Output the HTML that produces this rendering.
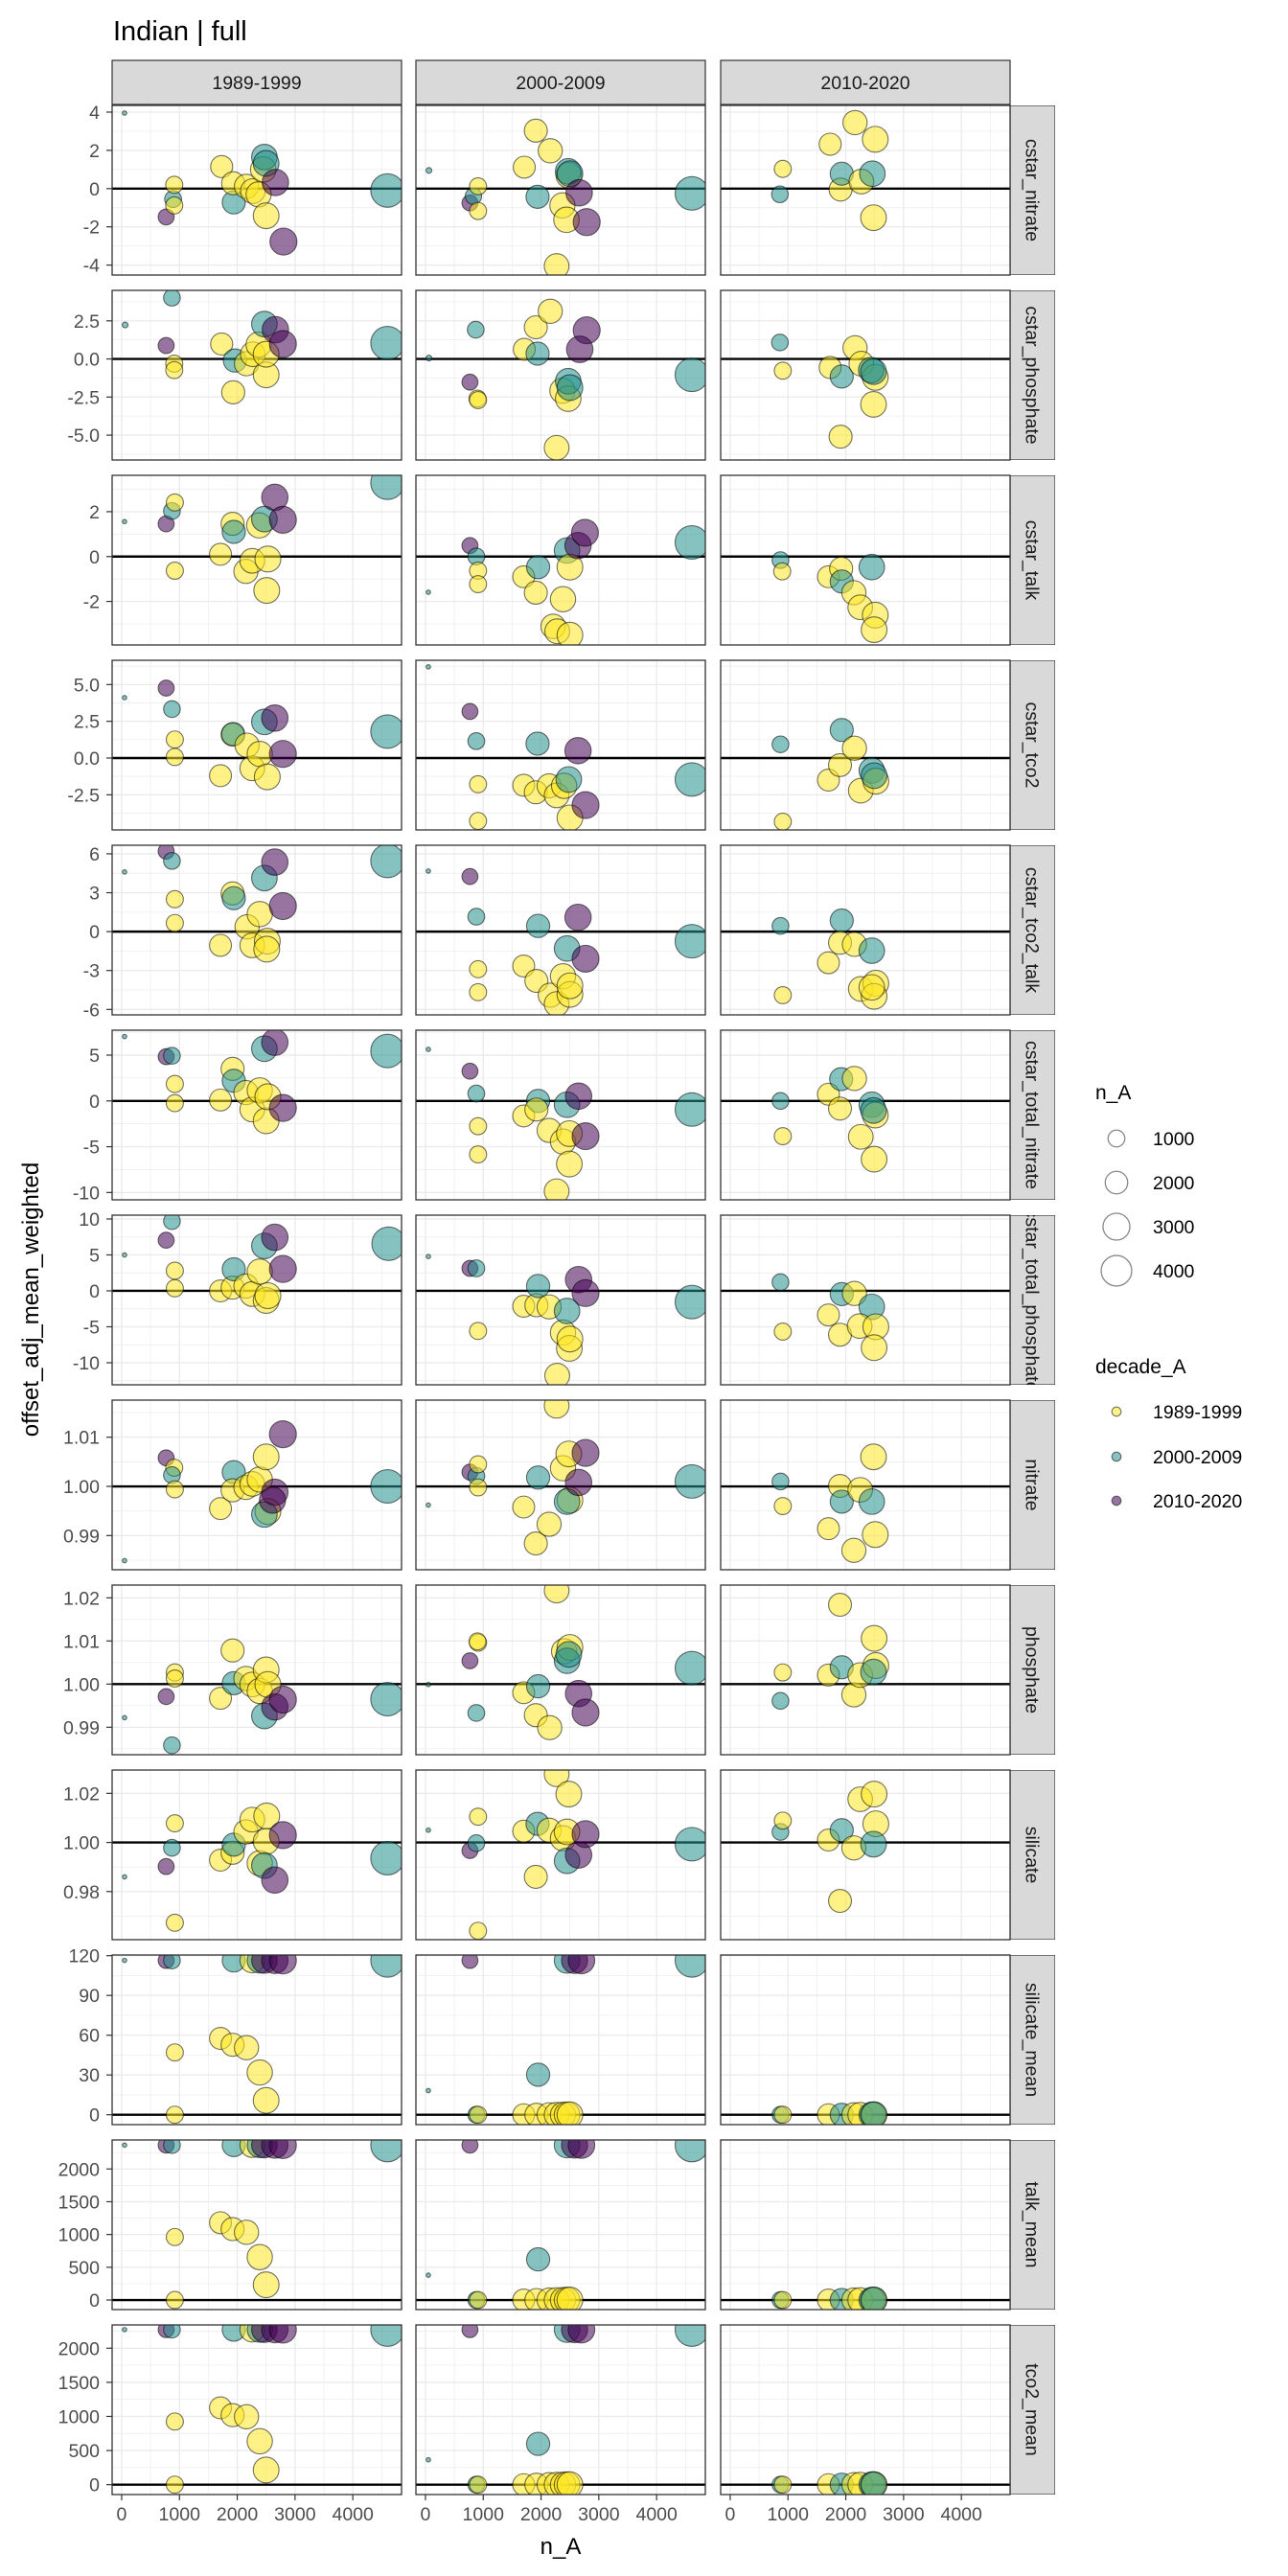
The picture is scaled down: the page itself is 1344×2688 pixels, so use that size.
<!DOCTYPE html>
<html><head><meta charset="utf-8">
<style>
html,body{margin:0;padding:0;background:#fff;}
svg{display:block;font-family:"Liberation Sans",Arial,sans-serif;}
</style></head>
<body>
<svg id="chart" width="1344" height="2688" viewBox="0 0 1344 2688" xmlns="http://www.w3.org/2000/svg">
<defs id="defs"></defs>
<rect width="1344" height="2688" fill="#fff"/>
<text x="118" y="42" font-size="29" fill="#000">Indian | full</text>
<text x="585" y="2665" font-size="24" text-anchor="middle" fill="#000">n_A</text>
<text transform="translate(40,1356) rotate(-90)" font-size="24" text-anchor="middle" fill="#000">offset_adj_mean_weighted</text>
<g id="legend">
<text x="1143" y="1147" font-size="21">n_A</text>
<text x="1143" y="1433" font-size="21">decade_A</text>
</g>
</svg>
<script>
const colNames = ["1989-1999","2000-2009","2010-2020"];
const rowNames = ["cstar_nitrate","cstar_phosphate","cstar_talk","cstar_tco2","cstar_tco2_talk","cstar_total_nitrate","cstar_total_phosphate","nitrate","phosphate","silicate","silicate_mean","talk_mean","tco2_mean"];
const rowDomains = [[-4.52,4.35],[-6.63,4.5],[-3.94,3.62],[-4.89,6.65],[-6.42,6.66],[-10.8,7.72],[-13.07,10.53],[0.98305,1.01754],[0.98362,1.02296],[0.9604,1.0295],[-7.45,120.5],[-146,2443],[-145,2341]];
const rowTicks = [[-4,-2,0,2,4],[-5,-2.5,0,2.5],[-2,0,2],[-2.5,0,2.5,5],[-6,-3,0,3,6],[-10,-5,0,5],[-10,-5,0,5,10],[0.99,1.00,1.01],[0.99,1.00,1.01,1.02],[0.98,1.00,1.02],[0,30,60,90,120],[0,500,1000,1500,2000],[0,500,1000,1500,2000]];
const rowTickLabels = [["-4","-2","0","2","4"],["-5.0","-2.5","0.0","2.5"],["-2","0","2"],["-2.5","0.0","2.5","5.0"],["-6","-3","0","3","6"],["-10","-5","0","5"],["-10","-5","0","5","10"],["0.99","1.00","1.01"],["0.99","1.00","1.01","1.02"],["0.98","1.00","1.02"],["0","30","60","90","120"],["0","500","1000","1500","2000"],["0","500","1000","1500","2000"]];
const refLines = [0,0,0,0,0,0,0,1,1,1,0,0,0];
const xTicks = [0,1000,2000,3000,4000];
const xTickLabels = ["0","1000","2000","3000","4000"];
const decades = ["1989-1999","2000-2009","2010-2020"];
const sizeLegend = [1000,2000,3000,4000];
// points: [column, n_A, decadeIndex, value]
const r0 = [[0,50,1,3.95],[0,770,2,-1.48],[0,890,1,-0.55],[0,910,0,0.2],[0,910,0,-0.88],[0,1730,0,1.15],[0,1940,1,-0.72],[0,1930,0,0.28],[0,2160,0,0.12],[0,2270,0,-0.13],[0,2370,0,-0.3],[0,2450,0,1.0],[0,2470,1,1.65],[0,2500,1,1.32],[0,2500,0,-1.42],[0,2660,2,0.32],[0,2800,2,-2.77],[0,4600,1,-0.1],
[1,60,1,0.95],[1,770,2,-0.75],[1,830,1,-0.4],[1,910,0,0.12],[1,910,0,-1.17],[1,1710,0,1.12],[1,1940,1,-0.43],[1,1910,0,3.03],[1,2160,0,1.98],[1,2270,0,-4.05],[1,2370,0,-0.88],[1,2480,0,0.7],[1,2470,1,0.9],[1,2500,1,0.78],[1,2440,0,-1.63],[1,2660,2,-0.22],[1,2790,2,-1.75],[1,4610,1,-0.25],
[2,910,0,1.03],[2,860,1,-0.3],[2,1730,0,2.32],[2,1910,0,-0.05],[2,1930,1,0.78],[2,2160,0,3.45],[2,2270,0,0.37],[2,2510,0,2.58],[2,2460,1,0.78],[2,2480,0,-1.52]];
const r1 = [[0,60,1,2.23],[0,870,1,4.02],[0,770,2,0.88],[0,910,0,-0.31],[0,910,0,-0.73],[0,1730,0,0.98],[0,1930,0,-2.19],[0,1960,1,-0.1],[0,2160,0,-0.31],[0,2270,0,0.31],[0,2370,0,0.94],[0,2500,0,-1.04],[0,2500,0,0.31],[0,2470,1,2.29],[0,2660,2,1.92],[0,2790,2,0.98],[0,4600,1,1.04],
[1,60,1,0.06],[1,770,2,-1.52],[1,900,0,-2.6],[1,910,0,-2.7],[1,870,1,1.92],[1,1710,0,0.63],[1,1940,1,0.35],[1,1910,0,2.08],[1,2160,0,3.13],[1,2270,0,-5.83],[1,2370,0,-2.08],[1,2470,0,-2.6],[1,2470,1,-1.46],[1,2500,1,-1.88],[1,2790,2,1.88],[1,2670,2,0.63],[1,4610,1,-1.04],
[2,860,1,1.08],[2,910,0,-0.77],[2,1730,0,-0.56],[2,1930,1,-1.15],[2,2160,0,0.73],[2,1910,0,-5.1],[2,2270,0,-0.31],[2,2510,0,-1.21],[2,2440,1,-0.73],[2,2480,1,-0.83],[2,2480,0,-2.98]];
const r2 = [[0,50,1,1.56],[0,770,2,1.46],[0,870,1,2.03],[0,920,0,2.41],[0,920,0,-0.63],[0,1710,0,0.1],[0,1920,0,1.46],[0,1940,1,1.1],[0,2150,0,-0.66],[0,2260,0,-0.19],[0,2380,0,1.39],[0,2470,1,1.67],[0,2530,0,-0.11],[0,2510,0,-1.51],[0,2650,2,2.64],[0,2790,2,1.64],[0,4600,1,3.29],
[1,50,1,-1.59],[1,770,2,0.49],[1,880,1,0],[1,910,0,-0.63],[1,910,0,-1.23],[1,1700,0,-0.9],[1,1950,1,-0.47],[1,1910,0,-1.61],[1,2210,0,-3.11],[1,2280,0,-3.33],[1,2500,0,-3.5],[1,2380,0,-1.9],[1,2450,1,0.27],[1,2500,0,-0.47],[1,2640,2,0.49],[1,2760,2,1.06],[1,4610,1,0.63],
[2,870,1,-0.16],[2,900,0,-0.66],[2,1700,0,-0.9],[2,1920,0,-0.54],[2,1930,1,-1.11],[2,2140,0,-1.61],[2,2250,0,-2.26],[2,2510,0,-2.61],[2,2490,0,-3.26],[2,2450,1,-0.47]];
const r3 = [[0,50,1,4.11],[0,770,2,4.76],[0,870,1,3.33],[0,920,0,1.26],[0,920,0,0.07],[0,1710,0,-1.2],[0,1920,0,1.6],[0,1930,1,1.63],[0,2170,0,0.87],[0,2260,0,-0.7],[0,2390,0,0.28],[0,2520,0,-1.28],[0,2470,1,2.46],[0,2650,2,2.72],[0,2790,2,0.28],[0,4600,1,1.8],
[1,50,1,6.2],[1,770,2,3.17],[1,880,1,1.15],[1,910,0,-1.78],[1,910,0,-4.28],[1,1700,0,-1.85],[1,1940,1,0.98],[1,1910,0,-2.33],[1,2140,0,-1.89],[1,2270,0,-2.54],[1,2400,0,-1.89],[1,2480,1,-1.46],[1,2500,0,-4.07],[1,2640,2,0.5],[1,2770,2,-3.2],[1,4610,1,-1.46],
[2,870,1,0.93],[2,910,0,-4.33],[2,1700,0,-1.5],[2,1930,1,1.91],[2,1900,0,-0.48],[2,2150,0,0.67],[2,2260,0,-2.22],[2,2450,1,-0.85],[2,2520,0,-1.57],[2,2490,1,-1.2]];
const r4 = [[0,50,1,4.6],[0,770,2,6.2],[0,870,1,5.45],[0,920,0,2.5],[0,920,0,0.66],[0,1710,0,-1.06],[0,1920,0,2.95],[0,1940,1,2.58],[0,2170,0,0.37],[0,2260,0,-1.06],[0,2390,0,1.35],[0,2520,0,-0.74],[0,2510,0,-1.35],[0,2470,1,4.13],[0,2650,2,5.36],[0,2790,2,1.97],[0,4600,1,5.45],
[1,50,1,4.67],[1,770,2,4.25],[1,880,1,1.15],[1,910,0,-2.9],[1,910,0,-4.67],[1,1700,0,-2.65],[1,1950,1,0.44],[1,1920,0,-3.8],[1,2160,0,-4.9],[1,2270,0,-5.58],[1,2380,0,-3.44],[1,2500,0,-4.84],[1,2500,0,-4.18],[1,2450,1,-1.3],[1,2640,2,1.1],[1,2770,2,-2.09],[1,4610,1,-0.74],
[2,870,1,0.44],[2,910,0,-4.9],[2,1700,0,-2.4],[2,1930,1,0.86],[2,1900,0,-0.86],[2,2150,0,-0.98],[2,2260,0,-4.42],[2,2450,1,-1.47],[2,2520,0,-3.98],[2,2490,0,-4.99],[2,2450,0,-4.3]];
const r5 = [[0,50,1,7.03],[0,770,2,4.83],[0,870,1,4.93],[0,920,0,1.85],[0,920,0,-0.24],[0,1710,0,0.1],[0,1920,0,3.5],[0,1940,1,2.2],[0,2150,0,0.91],[0,2260,0,-0.94],[0,2390,0,1.15],[0,2500,0,-2.17],[0,2530,0,0.45],[0,2470,1,5.7],[0,2650,2,6.4],[0,2790,2,-0.77],[0,4600,1,5.45],
[1,50,1,5.63],[1,770,2,3.25],[1,880,1,0.8],[1,910,0,-2.76],[1,910,0,-5.84],[1,1700,0,-1.64],[1,1950,1,0],[1,1920,0,-0.94],[1,2140,0,-3.22],[1,2380,0,-4.44],[1,2490,0,-6.89],[1,2270,0,-9.86],[1,2490,0,-3.57],[1,2450,1,-0.42],[1,2650,2,0.52],[1,2770,2,-3.85],[1,4610,1,-0.94],
[2,870,1,0],[2,910,0,-3.85],[2,1700,0,0.73],[2,1920,1,2.38],[2,1900,0,-0.84],[2,2150,0,2.45],[2,2260,0,-3.92],[2,2450,1,-0.42],[2,2510,0,-1.54],[2,2480,1,-1.05],[2,2490,0,-6.36]];
const r6 = [[0,50,1,5],[0,870,1,9.7],[0,770,2,7.05],[0,920,0,2.8],[0,920,0,0.36],[0,1710,0,0],[0,1920,0,0.45],[0,1940,1,3],[0,2150,0,0.67],[0,2260,0,-0.45],[0,2390,0,2.68],[0,2500,0,-1.34],[0,2530,0,-0.67],[0,2470,1,6.25],[0,2650,2,7.45],[0,2790,2,3.04],[0,4620,1,6.56],
[1,50,1,4.78],[1,770,2,3.13],[1,880,1,3.13],[1,910,0,-5.58],[1,1700,0,-2.14],[1,1920,0,-2.0],[1,1950,1,0.67],[1,2140,0,-2.23],[1,2380,0,-5.8],[1,2490,0,-8.0],[1,2500,0,-6.7],[1,2280,0,-11.8],[1,2450,1,-2.8],[1,2650,2,1.56],[1,2770,2,-0.31],[1,4610,1,-1.56],
[2,870,1,1.2],[2,910,0,-5.67],[2,1700,0,-3.35],[2,1930,1,-0.45],[2,2150,0,-0.36],[2,1900,0,-6.1],[2,2450,1,-2.23],[2,2240,0,-4.9],[2,2520,0,-5.0],[2,2490,0,-7.9]];
const r7 = [[0,50,1,0.9849],[0,770,2,1.0058],[0,910,0,1.0038],[0,870,1,1.0023],[0,920,0,0.9994],[0,1710,0,0.9955],[0,1940,1,1.0029],[0,1920,0,0.9992],[0,2150,0,0.9998],[0,2260,0,1.0005],[0,2390,0,1.0014],[0,2500,0,1.006],[0,2530,0,0.9949],[0,2470,1,0.9943],[0,2650,2,0.9988],[0,2610,2,0.9972],[0,2790,2,1.0106],[0,4600,1,1.0],
[1,50,1,0.9962],[1,770,2,1.0029],[1,880,1,1.0021],[1,910,0,1.0045],[1,910,0,0.9998],[1,1700,0,0.9958],[1,1950,1,1.0018],[1,1910,0,0.9884],[1,2140,0,0.9923],[1,2270,0,1.0164],[1,2380,0,1.0037],[1,2480,0,1.0066],[1,2500,0,0.9972],[1,2450,1,0.9969],[1,2650,2,1.0008],[1,2770,2,1.0068],[1,4610,1,1.001],
[2,870,1,1.001],[2,910,0,0.996],[2,1700,0,0.9914],[2,1900,0,1.0001],[2,1930,1,0.9969],[2,2140,0,0.987],[2,2250,0,0.9993],[2,2450,1,0.9969],[2,2510,0,0.9902],[2,2480,0,1.006]];
const r8 = [[0,50,1,0.9922],[0,870,1,0.9858],[0,770,2,0.9971],[0,920,0,1.0027],[0,920,0,1.0013],[0,1710,0,0.9967],[0,1920,0,1.0078],[0,1940,1,1.0002],[0,2150,0,1.0013],[0,2260,0,0.9999],[0,2390,0,0.9984],[0,2500,0,1.0033],[0,2530,0,0.9999],[0,2470,1,0.9926],[0,2650,2,0.9947],[0,2790,2,0.9964],[0,4600,1,0.9965],
[1,50,1,0.9999],[1,770,2,1.0054],[1,880,1,0.9933],[1,910,0,1.0096],[1,900,0,1.0099],[1,1700,0,0.998],[1,1950,1,0.9995],[1,1910,0,0.9928],[1,2150,0,0.9899],[1,2270,0,1.0217],[1,2400,0,1.0076],[1,2500,0,1.0085],[1,2450,1,1.0054],[1,2480,1,1.0069],[1,2650,2,0.9978],[1,2770,2,0.9934],[1,4610,1,1.0037],
[2,870,1,0.9961],[2,910,0,1.0027],[2,1700,0,1.0021],[2,1930,1,1.0039],[2,1900,0,1.0184],[2,2140,0,0.9975],[2,2250,0,1.0021],[2,2490,0,1.0106],[2,2520,0,1.0043],[2,2480,1,1.0028]];
const r9 = [[0,50,1,0.986],[0,770,2,0.9902],[0,870,1,0.9978],[0,920,0,1.0078],[0,920,0,0.9673],[0,1710,0,0.9928],[0,1920,0,0.9958],[0,1940,1,0.9991],[0,2150,0,1.0043],[0,2260,0,1.0093],[0,2510,0,1.0108],[0,2390,0,0.9915],[0,2500,0,1.0004],[0,2470,1,0.9906],[0,2650,2,0.9847],[0,2790,2,1.003],[0,4600,1,0.9936],
[1,50,1,1.005],[1,770,2,0.9967],[1,880,1,0.9997],[1,910,0,1.0105],[1,910,0,0.964],[1,1700,0,1.0046],[1,1940,1,1.0076],[1,1910,0,0.986],[1,2140,0,1.005],[1,2270,0,1.0278],[1,2480,0,1.0197],[1,2380,0,1.0017],[1,2450,0,1.0043],[1,2450,1,0.9925],[1,2650,2,0.9949],[1,2770,2,1.0034],[1,4610,1,0.9993],
[2,870,1,1.0043],[2,910,0,1.0089],[2,1700,0,1.001],[2,1930,1,1.005],[2,1900,0,0.9762],[2,2140,0,0.9978],[2,2250,0,1.0176],[2,2490,0,1.0197],[2,2520,0,1.0076],[2,2480,1,0.9993]];
const r10 = [[0,50,1,116.4],[0,770,2,116.4],[0,870,1,116.4],[0,920,0,47],[0,920,0,0],[0,1710,0,57.6],[0,1920,0,52.8],[0,1940,1,116.4],[0,2160,0,50.6],[0,2260,0,116.4],[0,2390,1,116.4],[0,2390,0,31.9],[0,2500,0,10.8],[0,2470,2,116.4],[0,2650,2,116.4],[0,2790,2,116.4],[0,4600,1,116.4],
[1,50,1,18.2],[1,770,2,116.4],[1,880,1,0],[1,910,0,0],[1,1700,0,0],[1,1920,0,0],[1,1950,1,30.2],[1,2140,0,0],[1,2270,0,0],[1,2380,0,0],[1,2450,0,0],[1,2500,0,0],[1,2450,1,116.4],[1,2580,2,116.4],[1,2700,2,116.4],[1,4610,1,116.4],
[2,870,1,0],[2,910,0,0],[2,1700,0,0],[2,1930,1,0],[2,2140,0,0],[2,2250,0,0],[2,2450,1,0],[2,2490,0,0],[2,2480,1,0]];
const r11 = [[0,50,1,2365],[0,770,2,2365],[0,870,1,2365],[0,920,0,961],[0,920,0,0],[0,1710,0,1180],[0,1920,0,1083],[0,1940,1,2365],[0,2160,0,1034],[0,2260,0,2365],[0,2390,1,2365],[0,2390,0,655],[0,2500,0,233],[0,2470,2,2365],[0,2650,2,2365],[0,2790,2,2365],[0,4600,1,2365],
[1,50,1,379],[1,770,2,2365],[1,880,1,0],[1,910,0,0],[1,1700,0,0],[1,1920,0,0],[1,1950,1,621],[1,2140,0,0],[1,2270,0,0],[1,2380,0,0],[1,2450,0,0],[1,2500,0,0],[1,2450,1,2365],[1,2580,2,2365],[1,2700,2,2365],[1,4610,1,2365],
[2,870,1,0],[2,910,0,0],[2,1700,0,0],[2,1930,1,0],[2,2140,0,0],[2,2250,0,0],[2,2450,1,0],[2,2490,0,0],[2,2480,1,0]];
const r12 = [[0,50,1,2272],[0,770,2,2272],[0,870,1,2272],[0,920,0,925],[0,920,0,0],[0,1710,0,1126],[0,1920,0,1019],[0,1940,1,2272],[0,2160,0,995],[0,2260,0,2272],[0,2390,1,2272],[0,2390,0,636],[0,2500,0,215],[0,2470,2,2272],[0,2650,2,2272],[0,2790,2,2272],[0,4600,1,2272],
[1,50,1,364],[1,770,2,2272],[1,880,1,0],[1,910,0,0],[1,1700,0,0],[1,1920,0,0],[1,1950,1,598],[1,2140,0,0],[1,2270,0,0],[1,2380,0,0],[1,2450,0,0],[1,2500,0,0],[1,2450,1,2272],[1,2580,2,2272],[1,2700,2,2272],[1,4610,1,2272],
[2,870,1,0],[2,910,0,0],[2,1700,0,0],[2,1930,1,0],[2,2140,0,0],[2,2250,0,0],[2,2450,1,0],[2,2490,0,0],[2,2480,1,0]];
const rowPoints = [r0,r1,r2,r3,r4,r5,r6,r7,r8,r9,r10,r11,r12];

const NS = "http://www.w3.org/2000/svg";
const svg = document.getElementById("chart");
const defs = document.getElementById("defs");
const colLeft = [117, 434, 752];
const PW = 302, PH = 177, ROW0 = 110, PITCH = 193;
const STRIP_TOP = 63, STRIP_H = 46, RSTRIP_W = 47;
const fills = ["#FDE725","#21908C","#440154"];
const XMIN = -165, XMAX = 4843;
function xScale(c, n){ return colLeft[c] + (n - XMIN) / (XMAX - XMIN) * PW; }
function yScale(r, v){ const d = rowDomains[r]; const top = ROW0 + r*PITCH; return top + (d[1]-v)/(d[1]-d[0])*PH; }
function rScale(n){ return 2.3 + 15.2*Math.sqrt(Math.max(0,(n-50)/4570)); }
function mk(tag, attrs, parent){ const e = document.createElementNS(NS, tag); for (const k in attrs) e.setAttribute(k, attrs[k]); (parent||svg).appendChild(e); return e; }

for (let c=0;c<3;c++){
  const g = mk("g",{});
  
  
  mk("rect",{x:colLeft[c],y:STRIP_TOP,width:PW,height:STRIP_H,fill:"#d9d9d9",stroke:"#333","stroke-width":1.2},g);
  const t = mk("text",{x:colLeft[c]+PW/2,y:STRIP_TOP+STRIP_H/2+7,"font-size":19.5,"text-anchor":"middle",fill:"#1a1a1a"},g);
  t.textContent = colNames[c];
}

for (let r=0;r<13;r++){
  const top = ROW0 + r*PITCH;
  const d = rowDomains[r];
  const ticks = rowTicks[r];
  const step = ticks[1]-ticks[0];
  const minors = [];
  for (let i=-1;i<ticks.length;i++){ const m = (i<0? ticks[0]-step/2 : ticks[i]+step/2); if (m>d[0] && m<d[1]) minors.push(m); }
  for (let i=0;i<ticks.length;i++){
    const y = yScale(r, ticks[i]);
    const tl = mk("text",{x:104,y:y+7,"font-size":19.5,"text-anchor":"end",fill:"#4d4d4d"});
    
    
    tl.textContent = rowTickLabels[r][i];
    mk("line",{x1:colLeft[0]-6,x2:colLeft[0],y1:y,y2:y,stroke:"#333","stroke-width":1.2});
  }
  const cid = "clipS"+r;
  const cp = mk("clipPath",{id:cid},defs);
  mk("rect",{x:colLeft[2]+PW,y:top,width:RSTRIP_W,height:PH},cp);
  const sg = mk("g",{"clip-path":"url(#"+cid+")"});
  
  
  mk("rect",{x:colLeft[2]+PW,y:top,width:RSTRIP_W,height:PH,fill:"#d9d9d9",stroke:"#333","stroke-width":1.2},sg);
  const stx = colLeft[2]+PW+RSTRIP_W/2 - 7, sty = top+PH/2;
  const st = mk("text",{x:0,y:0,"font-size":19.5,"text-anchor":"middle",fill:"#1a1a1a",transform:"translate("+stx+","+sty+") rotate(90)"},sg);
  st.textContent = rowNames[r];

  for (let c=0;c<3;c++){
    const left = colLeft[c];
    const pg = mk("g",{});
    
    
    const pcid = "clipP"+r+"_"+c;
    const pcp = mk("clipPath",{id:pcid},defs);
    mk("rect",{x:left,y:top,width:PW,height:PH},pcp);
    mk("rect",{x:left,y:top,width:PW,height:PH,fill:"#fff"},pg);
    const grid = mk("g",{"clip-path":"url(#"+pcid+")"},pg);
    for (const m of minors){ const y=yScale(r,m); mk("line",{x1:left,x2:left+PW,y1:y,y2:y,stroke:"#ebebeb","stroke-width":0.7},grid); }
    for (let k=0;k<xTicks.length;k++){ const x=xScale(c,xTicks[k]+500); if (x<left+PW) mk("line",{x1:x,x2:x,y1:top,y2:top+PH,stroke:"#ebebeb","stroke-width":0.7},grid); }
    for (const t of ticks){ const y=yScale(r,t); mk("line",{x1:left,x2:left+PW,y1:y,y2:y,stroke:"#ebebeb","stroke-width":1.4},grid); }
    for (const t of xTicks){ const x=xScale(c,t); mk("line",{x1:x,x2:x,y1:top,y2:top+PH,stroke:"#ebebeb","stroke-width":1.4},grid); }
    const ry = yScale(r, refLines[r]);
    const hl = mk("line",{x1:left,x2:left+PW,y1:ry,y2:ry,stroke:"#000","stroke-width":2.4},grid);
    
    
    const pts = rowPoints[r];
    for (const p of pts){
      if (p[0]!==c) continue;
      const circ = mk("circle",{cx:xScale(c,p[1]),cy:yScale(r,p[3]),r:rScale(p[1]),fill:fills[p[2]],"fill-opacity":0.55,stroke:"#000","stroke-opacity":0.55,"stroke-width":1.1},grid);
      
      
    }
    mk("rect",{x:left,y:top,width:PW,height:PH,fill:"none",stroke:"#333","stroke-width":1.3},pg);
  }
}
const bottom = ROW0 + 12*PITCH + PH;
for (let c=0;c<3;c++){
  for (let k=0;k<xTicks.length;k++){
    const x = xScale(c,xTicks[k]);
    mk("line",{x1:x,x2:x,y1:bottom,y2:bottom+6,stroke:"#333","stroke-width":1.2});
    const t = mk("text",{x:x,y:bottom+27,"font-size":19.5,"text-anchor":"middle",fill:"#4d4d4d"});
    
    
    t.textContent = xTickLabels[k];
  }
}
const lg = document.getElementById("legend");
const sizeY = [1188,1234,1280,1326];
for (let i=0;i<sizeLegend.length;i++){
  const c = mk("circle",{cx:1165,cy:sizeY[i],r:rScale(sizeLegend[i])-0.5,fill:"#fff",stroke:"#888","stroke-width":1.3},lg);
  
  
  const t = mk("text",{x:1203,y:sizeY[i]+7,"font-size":19.5,fill:"#000"},lg);
  
  
  t.textContent = String(sizeLegend[i]);
}
const decY = [1473,1520,1566];
for (let i=0;i<decades.length;i++){
  const c = mk("circle",{cx:1165,cy:decY[i],r:4.8,fill:fills[i],"fill-opacity":0.55,stroke:"#000","stroke-opacity":0.55,"stroke-width":1.1},lg);
  
  
  const t = mk("text",{x:1203,y:decY[i]+7,"font-size":19.5,fill:"#000"},lg);
  
  
  t.textContent = decades[i];
}
</script>
</body></html>
